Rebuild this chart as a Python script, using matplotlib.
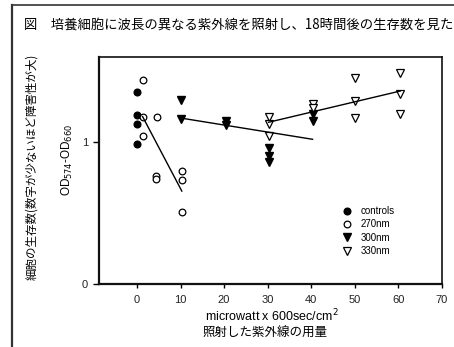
import matplotlib
matplotlib.use("Agg")
import matplotlib.pyplot as plt
from matplotlib.lines import Line2D

# ---- data ----
ctrl_x = [0, 0, 0, 0]
ctrl_y = [1.35, 1.19, 1.13, 0.99]

nm270_x = [1.3, 1.3, 4.5, 1.3, 4.3, 4.3, 10.3, 10.3, 10.3]
nm270_y = [1.44, 1.18, 1.18, 1.04, 0.76, 0.74, 0.80, 0.73, 0.51]
fit270_x = [1.3, 10.3]
fit270_y = [1.18, 0.655]

nm300_x = [10, 10, 20.4, 20.4, 30.2, 30.2, 30.2, 40.3, 40.3]
nm300_y = [1.30, 1.16, 1.15, 1.12, 0.96, 0.90, 0.86, 1.20, 1.15]
fit300_x = [10, 40.3]
fit300_y = [1.17, 1.02]

nm330_x = [30.2, 30.2, 30.2, 40.3, 40.3, 50.1, 50.1, 50.1, 60.4, 60.4, 60.4]
nm330_y = [1.18, 1.13, 1.04, 1.27, 1.24, 1.45, 1.29, 1.17, 1.49, 1.34, 1.20]
fit330_x = [30.2, 60.4]
fit330_y = [1.14, 1.36]

xticks = [0, 10, 20, 30, 40, 50, 60, 70]
yticks = [0, 1]

title = "図\u3000培養細胞に波長の異なる紫外線を照射し、18時間後の生存数を見た"
ylabel_jp = "細胞の生存数(数字が少ないほど障害性が大)"
xlabel_en = "microwatt x 600sec/cm$^2$"
xlabel_jp = "照射した紫外線の用量"
legend_labels = ["controls", "270nm", "300nm", "330nm"]

# ---- figure ----
W, H = 454, 347
fig = plt.figure(figsize=(W / 100, H / 100), dpi=100)
fig.patch.set_facecolor("white")

def fx(px):
    return px / W

def fy(py):
    return 1 - py / H

ax = fig.add_axes([fx(99), fy(284), fx(442) - fx(99), fy(57) - fy(284)])
ax.set_xlim(-8.7, 70)
ax.set_ylim(0, 1.6)

ms_c = 4.8
ms_t = 5.2
mew = 0.9
ax.plot(ctrl_x, ctrl_y, "o", color="black", ms=ms_c, ls="none", label=legend_labels[0])
ax.plot(nm270_x, nm270_y, "o", mfc="white", mec="black", mew=mew, ms=ms_c, ls="none", label=legend_labels[1])
ax.plot(nm300_x, nm300_y, "v", color="black", ms=ms_t, ls="none", label=legend_labels[2])
ax.plot(nm330_x, nm330_y, "v", mfc="white", mec="black", mew=mew, ms=ms_t + 0.6, ls="none", label=legend_labels[3])

ax.plot(fit270_x, fit270_y, color="black", lw=1.0)
ax.plot(fit300_x, fit300_y, color="black", lw=1.0)
ax.plot(fit330_x, fit330_y, color="black", lw=1.0)

tick_font = ["Liberation Sans", "DejaVu Sans"]
ax.set_xticks(xticks)
ax.set_yticks(yticks)
ax.set_xticklabels([str(t) for t in xticks], family=tick_font, fontsize=8, color="#222222")
ax.set_yticklabels([str(t) for t in yticks], family=tick_font, fontsize=8, color="#222222")
ax.tick_params(axis="x", direction="out", length=3, width=1, pad=5)
ax.tick_params(axis="y", direction="out", length=4, width=1, pad=4)

for s in ["left", "bottom"]:
    ax.spines[s].set_linewidth(1.6)
for s in ["top", "right"]:
    ax.spines[s].set_linewidth(1.2)
for s in ax.spines.values():
    s.set_color("#111111")

leg = ax.legend(loc="upper left", bbox_to_anchor=(fx(342), fy(206)),
                bbox_transform=fig.transFigure, frameon=False,
                prop={"family": tick_font, "size": 7}, handlelength=1.0,
                handletextpad=0.9, labelspacing=0.35, borderpad=0, borderaxespad=0)

# labels
jp = ["Noto Sans CJK JP", "DejaVu Sans"]
fig.text(fx(24), fy(25), title, family=jp, fontsize=9.6, va="center", ha="left")
fig.text(fx(32), fy(167), ylabel_jp, family=jp, fontsize=8.3, rotation=90, va="center", ha="center")
fig.text(fx(67), fy(160), "OD$_{574}$-OD$_{660}$", family=tick_font, fontsize=8.5,
         rotation=90, va="center", ha="center")
fig.text(fx(272), fy(316), xlabel_en, family=tick_font, fontsize=9, va="center", ha="center")
fig.text(fx(265), fy(333), xlabel_jp, family=jp, fontsize=9, va="center", ha="center")

# outer frame of the figure
fig.add_artist(Line2D([fx(12), fx(12)], [fy(5), fy(347)], color="#333333", lw=1.6,
                      transform=fig.transFigure))
fig.add_artist(Line2D([fx(12), fx(454)], [fy(5), fy(5)], color="#333333", lw=1.2,
                      transform=fig.transFigure))

fig.savefig("out.png", dpi=100)
